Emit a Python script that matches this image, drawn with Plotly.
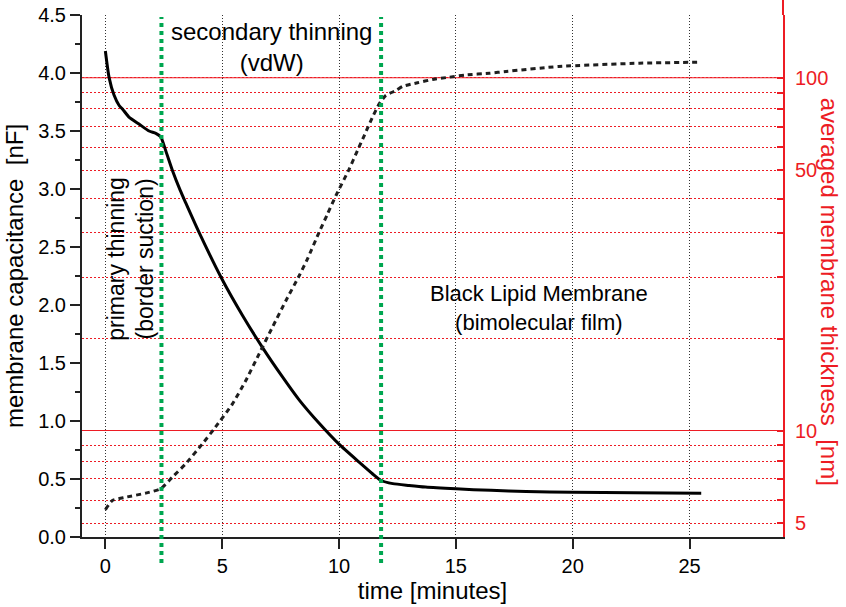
import numpy as np
import plotly.graph_objects as go

# ---------------- data ----------------
# membrane capacitance (left axis, nF) versus time (minutes)
time_cap = [0.0, 0.16, 0.37, 0.59, 0.73, 1.01, 1.44, 1.87, 2.16, 2.37,
            2.6, 2.87, 3.2, 3.44, 4.0, 5.0, 5.87, 6.72, 7.58, 8.3,
            9.15, 10.0, 10.86, 11.43, 11.8, 12.3, 13.0, 13.7, 15.0, 16.5,
            18.0, 20.0, 22.6, 25.5]
capacitance = [4.19, 3.96, 3.81, 3.72, 3.69, 3.62, 3.56, 3.50, 3.48, 3.45,
               3.32, 3.16, 2.99, 2.88, 2.63, 2.22, 1.91, 1.635, 1.38, 1.18,
               0.98, 0.80, 0.645, 0.545, 0.487, 0.46, 0.444, 0.43, 0.415, 0.402,
               0.392, 0.386, 0.381, 0.378]

# averaged membrane thickness (right axis, nm) versus time (minutes)
time_thk = [0.0, 0.3, 0.87, 1.73, 2.37, 2.87, 3.44, 4.15, 4.66, 5.44,
            6.01, 6.58, 7.15, 7.73, 8.3, 8.65, 9.15, 9.51, 9.87, 10.44,
            10.79, 11.08, 11.43, 11.72, 12.0, 12.44, 12.72, 13.36, 14.0, 14.72,
            15.43, 16.43, 17.15, 19.4, 22.86, 25.5]
thickness = [5.57, 6.0, 6.14, 6.32, 6.52, 7.09, 7.85, 9.10, 10.08, 11.25,
             12.47, 14.03, 15.83, 17.93, 20.28, 23.64, 30.18, 35.22, 41.04, 50.65,
             58.6, 65.6, 75.2, 83.0, 88.25, 91.5, 94.1, 96.6, 98.8, 100.4,
             102.0, 103.2, 104.5, 108.2, 110.7, 111.5]

# boundaries between thinning phases (minutes)
phase_bounds = [2.4, 11.8]

# tick labels
x_ticks = [0, 5, 10, 15, 20, 25]
y_ticks = [0.0, 0.5, 1.0, 1.5, 2.0, 2.5, 3.0, 3.5, 4.0, 4.5]
thk_grid_nm = [5, 6, 7, 8, 9, 10, 15, 20, 30, 40, 50, 60, 70, 80, 90, 100]
thk_labelled = [100, 50, 10, 5]
thk_solid = [100, 10]

# ---------------- thickness scale of the right axis ----------------
# The original uses a non-uniform thickness scale; it is expressed here as the
# equivalent position on the capacitance scale of each thickness grid value.
thk_grid_at_cap = [0.119, 0.315, 0.502, 0.653, 0.789, 0.918, 1.709, 2.241,
                   2.622, 2.916, 3.160, 3.358, 3.536, 3.691, 3.829, 3.959]


def thk_pos(d):
    lg = np.log10(np.asarray(d, dtype=float))
    xs = np.log10(np.asarray(thk_grid_nm, dtype=float))
    ys = np.asarray(thk_grid_at_cap, dtype=float)
    out = np.interp(lg, xs, ys)
    hi = lg > xs[-1]
    out[hi] = ys[-1] + (lg[hi] - xs[-1]) * (ys[-1] - ys[-2]) / (xs[-1] - xs[-2])
    lo = lg < xs[0]
    out[lo] = ys[0] + (lg[lo] - xs[0]) * (ys[1] - ys[0]) / (xs[1] - xs[0])
    return out


FONT = "Liberation Sans, Arial, Helvetica, sans-serif"
RED = "#ed1c24"
GREEN = "#00a650"

fig = go.Figure()
fig.add_trace(go.Scatter(x=time_cap, y=capacitance, mode="lines",
                         line=dict(color="black", width=3, shape="spline", smoothing=0.6),
                         yaxis="y", showlegend=False, hoverinfo="skip"))
fig.add_trace(go.Scatter(x=time_thk, y=thk_pos(thickness), mode="lines",
                         line=dict(color="#1e1e1e", width=3, dash="5px,4px",
                                   shape="spline", smoothing=0.5),
                         yaxis="y2", showlegend=False, hoverinfo="skip"))

shapes = []
for v in thk_solid:
    p = float(thk_pos([v])[0])
    shapes.append(dict(type="line", xref="paper", x0=0, x1=1, yref="y2", y0=p, y1=p,
                       line=dict(color=RED, width=1.2), layer="between"))
for b in phase_bounds:
    shapes.append(dict(type="line", xref="x", x0=b, x1=b, yref="paper", y0=-0.05, y1=0.996,
                       line=dict(color=GREEN, width=4, dash="dot"), layer="above"))
# right axis line continues to the top edge
shapes.append(dict(type="line", xref="paper", x0=1, x1=1, yref="paper", y0=1, y1=1.03,
                   line=dict(color=RED, width=2)))

annotations = [
    dict(text="secondary thinning<br>(vdW)", x=7.1, y=4.22, xref="x", yref="y",
         showarrow=False, font=dict(size=24, color="black", family=FONT)),
    dict(text="primary thinning<br>(border suction)", x=1.06, y=2.40, xref="x", yref="y",
         textangle=-90, showarrow=False, font=dict(size=23, color="black", family=FONT)),
    dict(text="Black Lipid Membrane<br>(bimolecular film)", x=18.57, y=1.97, xref="x", yref="y",
         showarrow=False, font=dict(size=22, color="black", family=FONT)),
    dict(text="averaged membrane thickness  [nm]", xref="paper", yref="paper",
         x=1, y=0.47, xanchor="center", yanchor="middle", xshift=46, textangle=90,
         showarrow=False, font=dict(size=24, color=RED, family=FONT)),
]

thk_tickvals = [float(v) for v in thk_pos(thk_grid_nm)]
thk_ticktext = [str(v) if v in thk_labelled else "" for v in thk_grid_nm]

fig.update_layout(
    width=846, height=607,
    margin=dict(l=82, r=63, t=15, b=70, autoexpand=False),
    paper_bgcolor="white", plot_bgcolor="white",
    font=dict(family=FONT, color="black"),
    showlegend=False,
    xaxis=dict(range=[-1, 29], tickvals=x_ticks, ticks="outside", ticklen=10,
               tickwidth=1.5, tickcolor="#222", showline=True, linecolor="#222",
               linewidth=2, showgrid=True, gridcolor="#333", griddash="1px,2px",
               gridwidth=1, zeroline=False, tickfont=dict(size=20), automargin=False,
               title=dict(text="time [minutes]", font=dict(size=24), standoff=6)),
    yaxis=dict(range=[0, 4.5], tickvals=y_ticks, ticktext=[f"{v:.1f}" for v in y_ticks],
               ticks="outside", ticklen=10, tickwidth=1.5, tickcolor="#222",
               minor=dict(dtick=0.25, tick0=0, ticks="outside", ticklen=5,
                          tickwidth=1.5, tickcolor="#222", showgrid=False),
               showline=True, linecolor="#222", linewidth=2, showgrid=False,
               zeroline=False, tickfont=dict(size=20), automargin=False,
               title=dict(text="membrane capacitance  [nF]", font=dict(size=24), standoff=8)),
    yaxis2=dict(range=[0, 4.5], overlaying="y", side="right", tickmode="array",
                tickvals=thk_tickvals, ticktext=thk_ticktext, ticks="inside",
                ticklen=6, tickwidth=2, tickcolor=RED, showline=True, linecolor=RED,
                linewidth=2, showgrid=True, gridcolor=RED, griddash="2px,2px",
                gridwidth=1, zeroline=False, tickfont=dict(size=20, color=RED),
                ticklabelstandoff=6, automargin=False),
    shapes=shapes,
    annotations=annotations,
)

fig.write_html("out.html")
